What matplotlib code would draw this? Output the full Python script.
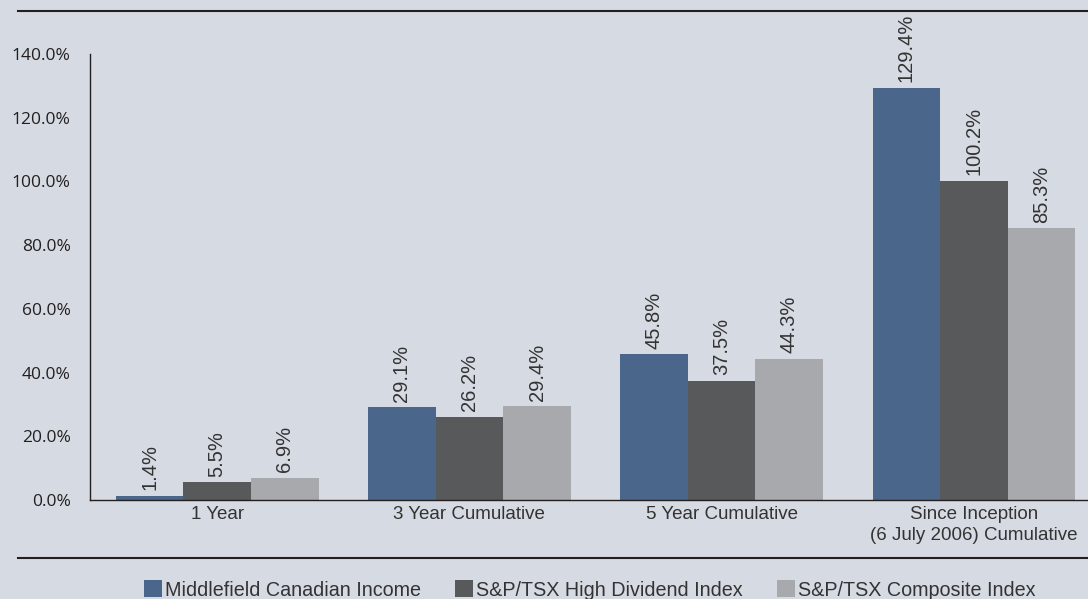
import numpy as np
import matplotlib
matplotlib.use('Agg')
import matplotlib.pyplot as plt
from matplotlib.patches import Patch
from matplotlib.lines import Line2D

categories = ["1 Year", "3 Year Cumulative", "5 Year Cumulative",
              "Since Inception\n(6 July 2006) Cumulative"]
series_names = ["Middlefield Canadian Income", "S&P/TSX High Dividend Index",
                "S&P/TSX Composite Index"]
mcl_values = [1.4, 29.1, 45.8, 129.4]
hdi_values = [5.5, 26.2, 37.5, 100.2]
comp_values = [6.9, 29.4, 44.3, 85.3]
y_ticks = [0, 20, 40, 60, 80, 100, 120, 140]

colors = ["#4a668a", "#58595b", "#a7a9ac"]
bg = "#d6dbe3"
txt = "#333333"

plt.rcParams['font.family'] = ['Liberation Sans', 'DejaVu Sans']

fig = plt.figure(figsize=(10.88, 5.99), dpi=100, facecolor=bg)
ax = fig.add_axes([0.0827, 0.1653, 0.9173, 0.7445])
ax.set_facecolor(bg)

x = np.arange(len(categories))
w = 0.268
for i, vals in enumerate([mcl_values, hdi_values, comp_values]):
    pos = x + (i - 1) * w
    ax.bar(pos, vals, width=w, color=colors[i], zorder=2)
    for p, v in zip(pos, vals):
        ax.annotate(f"{v:.1f}%", (p, v), xytext=(0, 4), textcoords='offset points',
                    rotation=90, ha='center', va='bottom', fontsize=14.5, color=txt)

ax.set_xlim(-0.504, 3.452)
ax.set_ylim(0, 140)
ax.set_yticks(y_ticks)
ax.set_yticklabels([f"{t:.1f}%" for t in y_ticks], fontsize=12.5,
                   family=['Open Sans', 'DejaVu Sans'], color="#231f20")
ax.set_xticks(x)
ax.set_xticklabels(categories, fontsize=13.5, color=txt, linespacing=1.35)
ax.tick_params(axis='both', length=0)
ax.tick_params(axis='y', pad=14)
ax.tick_params(axis='x', pad=4)
for s in ['top', 'right']:
    ax.spines[s].set_visible(False)
ax.spines['left'].set_color('#231f20')
ax.spines['bottom'].set_color('#231f20')
ax.spines['left'].set_linewidth(1.0)
ax.spines['bottom'].set_linewidth(1.0)

# horizontal rules above and below the chart
fig.add_artist(Line2D([0.0165, 1.0], [0.9816, 0.9816], color='#231f20', lw=1.5))
fig.add_artist(Line2D([0.0165, 1.0], [0.0684, 0.0684], color='#231f20', lw=1.5))

handles = [Patch(facecolor=c, edgecolor='none') for c in colors]
fig.legend(handles, series_names, loc='center', bbox_to_anchor=(0.542, 0.015),
           ncol=3, frameon=False, fontsize=14.2, handlelength=0.9, handleheight=0.95,
           handletextpad=0.15, columnspacing=1.75, labelcolor=txt, borderpad=0)

fig.savefig("out.png", dpi=100, facecolor=bg)
